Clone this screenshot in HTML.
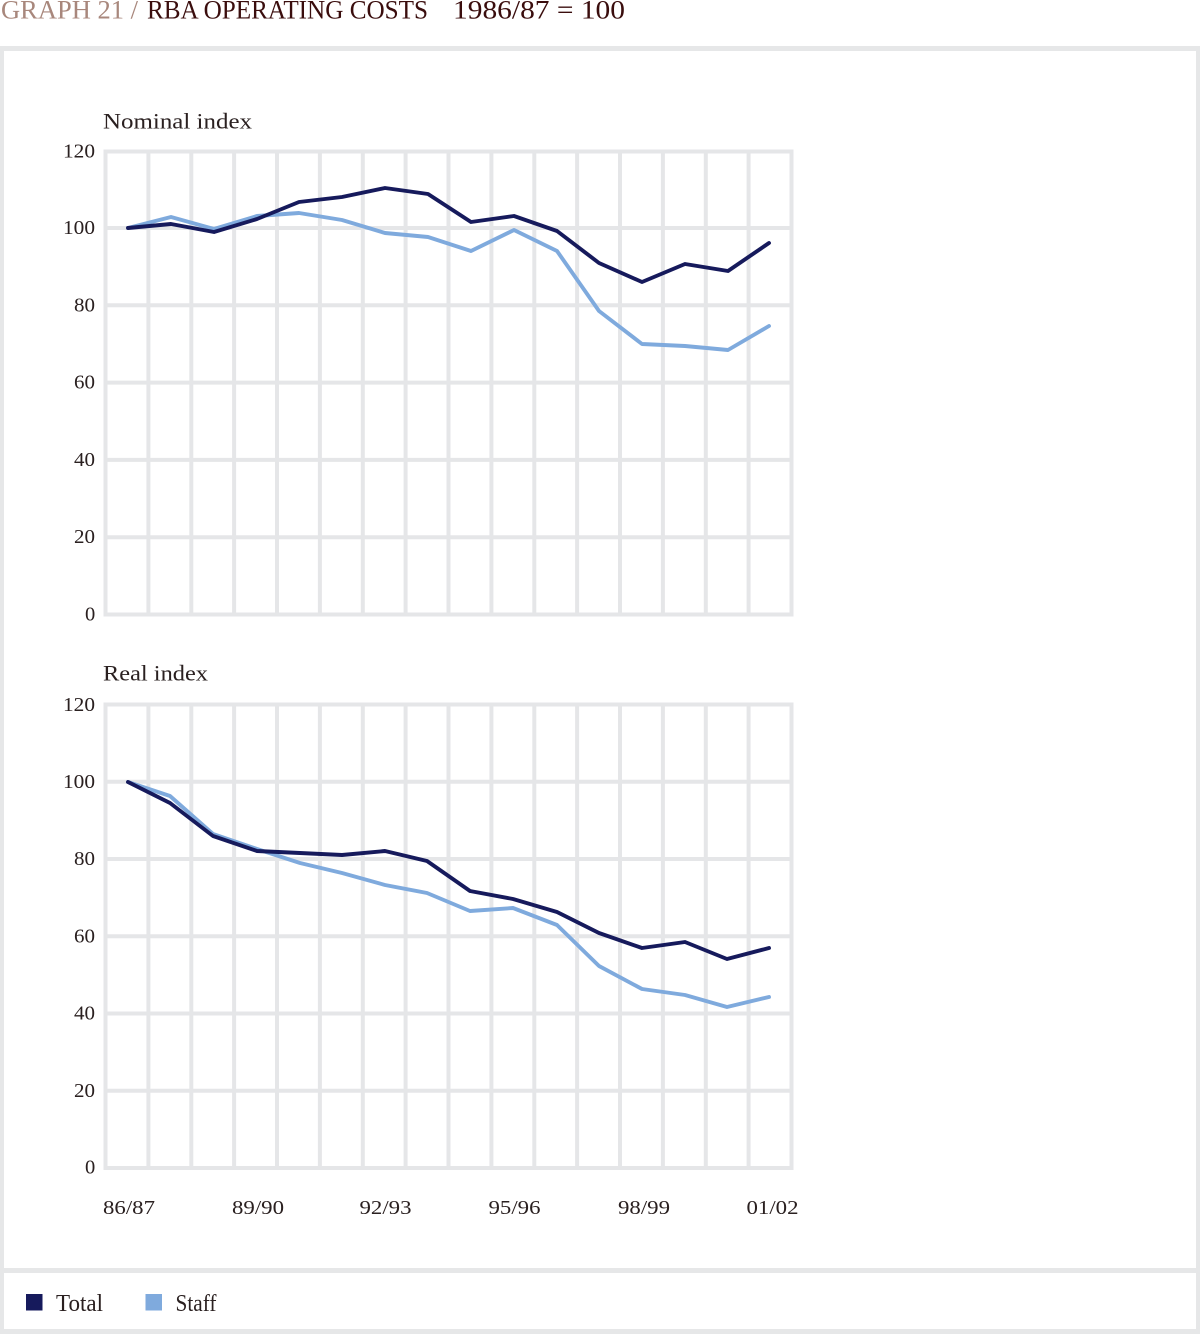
<!DOCTYPE html>
<html><head><meta charset="utf-8"><style>
html,body{margin:0;padding:0;background:#fff;}
svg{display:block;}
</style></head><body>
<svg width="1200" height="1334" viewBox="0 0 1200 1334" xmlns="http://www.w3.org/2000/svg" font-family="'Liberation Serif', serif">
<rect width="1200" height="1334" fill="#fff"/>
<!-- title -->
<text x="1" y="18.5" font-size="26" fill="#a8877c" textLength="137" lengthAdjust="spacingAndGlyphs">GRAPH 21 /</text>
<text x="147" y="18.5" font-size="26" fill="#3a0d0d" textLength="281" lengthAdjust="spacingAndGlyphs">RBA OPERATING COSTS</text>
<text x="453" y="18.5" font-size="26" fill="#3a0d0d" textLength="172" lengthAdjust="spacingAndGlyphs">1986/87 = 100</text>
<!-- frame -->
<g fill="#e6e7e8">
<rect x="0" y="46" width="1200" height="5"/>
<rect x="0" y="46" width="4" height="1288"/>
<rect x="1196" y="46" width="4" height="1288"/>
<rect x="0" y="1268" width="1200" height="5"/>
<rect x="0" y="1329" width="1200" height="5"/>
</g>
<!-- nominal grid -->
<g stroke="#e5e6e8" stroke-width="4" fill="none">
<path d="M105.5 149.5V616.5M148.4 149.5V616.5M191.3 149.5V616.5M234.1 149.5V616.5M277 149.5V616.5M319.9 149.5V616.5M362.8 149.5V616.5M405.6 149.5V616.5M448.5 149.5V616.5M491.4 149.5V616.5M534.3 149.5V616.5M577.1 149.5V616.5M620 149.5V616.5M662.9 149.5V616.5M705.8 149.5V616.5M748.6 149.5V616.5M791.5 149.5V616.5"/>
<path d="M103.5 151.5H793.5M103.5 228H793.5M103.5 305.3H793.5M103.5 382.6H793.5M103.5 459.9H793.5M103.5 537.2H793.5M103.5 614.5H793.5"/>
</g>
<!-- real grid -->
<g stroke="#e5e6e8" stroke-width="4" fill="none">
<path d="M105.5 702.5V1170M148.4 702.5V1170M191.3 702.5V1170M234.1 702.5V1170M277 702.5V1170M319.9 702.5V1170M362.8 702.5V1170M405.6 702.5V1170M448.5 702.5V1170M491.4 702.5V1170M534.3 702.5V1170M577.1 702.5V1170M620 702.5V1170M662.9 702.5V1170M705.8 702.5V1170M748.6 702.5V1170M791.5 702.5V1170"/>
<path d="M103.5 704.5H793.5M103.5 781.75H793.5M103.5 859H793.5M103.5 936.25H793.5M103.5 1013.5H793.5M103.5 1090.75H793.5M103.5 1168H793.5"/>
</g>
<!-- panel titles -->
<g fill="#2a2020">
<text x="103" y="128.5" font-size="22.5" textLength="149" lengthAdjust="spacingAndGlyphs">Nominal  index</text>
<text x="103" y="680.5" font-size="22.5" textLength="105" lengthAdjust="spacingAndGlyphs">Real  index</text>
</g>
<!-- y labels -->
<g fill="#2a2020" font-size="20.5">
<text x="63" y="157.5" textLength="32" lengthAdjust="spacingAndGlyphs">120</text>
<text x="63" y="234" textLength="32" lengthAdjust="spacingAndGlyphs">100</text>
<text x="74" y="311.3" textLength="21" lengthAdjust="spacingAndGlyphs">80</text>
<text x="74" y="388.6" textLength="21" lengthAdjust="spacingAndGlyphs">60</text>
<text x="74" y="465.9" textLength="21" lengthAdjust="spacingAndGlyphs">40</text>
<text x="74" y="543.2" textLength="21" lengthAdjust="spacingAndGlyphs">20</text>
<text x="85" y="620.5">0</text>
<text x="63" y="711" textLength="32" lengthAdjust="spacingAndGlyphs">120</text>
<text x="63" y="787.75" textLength="32" lengthAdjust="spacingAndGlyphs">100</text>
<text x="74" y="865" textLength="21" lengthAdjust="spacingAndGlyphs">80</text>
<text x="74" y="942.25" textLength="21" lengthAdjust="spacingAndGlyphs">60</text>
<text x="74" y="1019.5" textLength="21" lengthAdjust="spacingAndGlyphs">40</text>
<text x="74" y="1096.75" textLength="21" lengthAdjust="spacingAndGlyphs">20</text>
<text x="85" y="1173.5">0</text>
</g>
<!-- x labels -->
<g fill="#2a2020" font-size="19.5">
<text x="103" y="1214" textLength="52" lengthAdjust="spacingAndGlyphs">86/87</text>
<text x="232" y="1214" textLength="52" lengthAdjust="spacingAndGlyphs">89/90</text>
<text x="359.5" y="1214" textLength="52" lengthAdjust="spacingAndGlyphs">92/93</text>
<text x="488.5" y="1214" textLength="52" lengthAdjust="spacingAndGlyphs">95/96</text>
<text x="618" y="1214" textLength="52" lengthAdjust="spacingAndGlyphs">98/99</text>
<text x="746.5" y="1214" textLength="52" lengthAdjust="spacingAndGlyphs">01/02</text>
</g>
<!-- nominal series -->
<polyline fill="none" stroke="#7faadd" stroke-width="3.9" stroke-linejoin="round" stroke-linecap="round"
points="128,228 171,217 214,229 257,216 299,213 342,220 385,233 428,237 471,251 514,230 557,251 599,311 642,344 685,346 728,350 769,326"/>
<polyline fill="none" stroke="#161a5c" stroke-width="3.9" stroke-linejoin="round" stroke-linecap="round"
points="128,228 171,224 214,232 257,219 299,202 342,197 385,188 428,194 471,222 514,216 557,231 599,263 642,282 685,264 728,271 769,243"/>
<!-- real series -->
<polyline fill="none" stroke="#7faadd" stroke-width="3.9" stroke-linejoin="round" stroke-linecap="round"
points="128,782 170,796 213,834 257,849 300,863 342,873 385,885 427,893 470,911 513,908 557,925 599,966 642,989 685,995 727,1007 769,997"/>
<polyline fill="none" stroke="#161a5c" stroke-width="3.9" stroke-linejoin="round" stroke-linecap="round"
points="128,782 170,803 213,836 257,851 300,853 342,855 385,851 427,861 470,891 513,899 557,912 599,933 642,948 685,942 727,959 769,948"/>
<!-- legend -->
<rect x="26" y="1294" width="16.5" height="16.5" fill="#161a5c"/>
<text x="56" y="1311" font-size="24" fill="#2a2020" textLength="47" lengthAdjust="spacingAndGlyphs">Total</text>
<rect x="145.5" y="1294" width="16.5" height="16.5" fill="#7faadd"/>
<text x="175.5" y="1311" font-size="24" fill="#2a2020" textLength="41" lengthAdjust="spacingAndGlyphs">Staff</text>
</svg>
</body></html>
